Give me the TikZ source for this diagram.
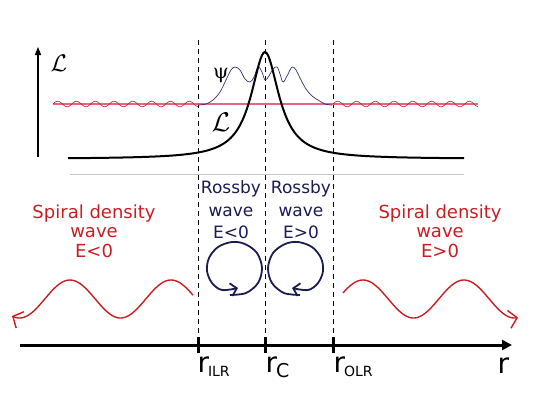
\documentclass[tikz,border=0pt]{standalone}
\usepackage{fontspec}
\setmainfont{DejaVu Sans}
\newfontfamily\psifont{DejaVu Serif}
\usetikzlibrary{arrows.meta}

\definecolor{wavered}{RGB}{200,30,35}
\definecolor{rossbyblue}{RGB}{28,28,80}
\definecolor{pinkline}{RGB}{232,100,130}
\definecolor{psiblue}{RGB}{50,50,120}

\tikzset{
  resline/.style={line width=0.9pt, dash pattern=on 5pt off 4pt},
  sdwlabel/.style={text=wavered, align=center, font=\fontsize{18}{19.5}\selectfont},
  rwlabel/.style={text=rossbyblue, align=center, font=\fontsize{17}{22.5}\selectfont},
  sdwarrow/.style={wavered, line width=1.4pt, -{Straight Barb[length=8pt,width=18pt]}},
  loopline/.style={rossbyblue, line width=1.8pt, -{Straight Barb[length=6pt,width=13pt]}},
  rlabel/.style={anchor=base west, font=\fontsize{28}{28}\selectfont},
  calL/.style={inner sep=0pt}
}

\begin{document}
\begin{tikzpicture}[x=1pt,y=-1pt]
    \useasboundingbox (0,0) rectangle (534,413);

    % resonance radii
    \foreach \name/\x in {ilr/198, cr/265, olr/333} {
        \coordinate (\name top) at (\x,40);
        \coordinate (\name bot) at (\x,338);
        \draw[resline] (\name top) -- (\name bot);
        \draw[line width=3pt] (\x,337) -- (\x,353);
    }

    % r axis
    \coordinate (axstart) at (20,345);
    \coordinate (axend) at (512,345);
    \draw[line width=3pt, -{Triangle[length=10pt,width=10pt]}] (axstart) -- (axend);
    \node[rlabel] (rilr) at (194,372) {r\kern-1pt\raisebox{-4pt}{\fontsize{14}{14}\selectfont ILR}};
    \node[rlabel] (rc) at (262,372) {r\kern-1pt\raisebox{-5pt}{\fontsize{19}{19}\selectfont C}};
    \node[rlabel] (rolr) at (330,372) {r\kern-1pt\raisebox{-4pt}{\fontsize{14}{14}\selectfont OLR}};
    \node[rlabel] (rend) at (494,373) {r};

    % upper panel
    \coordinate (lbot) at (38,157);
    \coordinate (ltop) at (38,47);
    \draw[line width=1.2pt, -{Triangle[length=8pt,width=6pt]}] (lbot) -- (ltop);
    \node[calL] (laxis) at (59,63) {\scalebox{2.4}{$\mathcal{L}$}};
    \draw[gray!45, line width=0.8pt] (70,174) -- (464,174);

    \draw[pinkline, line width=1.5pt] (53,104) -- (478,104);
    \draw[wavered, line width=0.6pt] plot[domain=53:198, samples=120, smooth] ({\x},{104-2.8*sin(19.15*(\x-53))});
    \draw[wavered, line width=0.6pt] plot[domain=333:478, samples=120, smooth] ({\x},{104-2.8*sin(19.15*(\x-333))});

    \draw[psiblue, line width=0.7pt] plot[smooth, tension=0.6] coordinates {
        (198,105) (206,104) (213,100) (220,92) (226,80) (231,70) (235,67) (240,70)
        (245,79) (250,82) (254,77) (258,67) (262,72) (265,80) (269,76) (273,69)
        (277,67) (280,74) (283,82) (287,76) (292,67) (296,70) (300,78) (306,89)
        (312,96) (318,100) (325,104) (332,105)};
    \node[font=\psifont\fontsize{20}{20}\selectfont, inner sep=0pt] (psi) at (221,75) {ψ};

    \draw[line width=2pt] plot[domain=68:464, samples=240] ({\x},{159-107/(1+((\x-265)/17)*((\x-265)/17))});
    \node[calL] (lcurve) at (221,122) {\scalebox{2.7}{$\mathcal{L}$}};

    % wave regions
    \node[sdwlabel] (sdwin) at (94,231) {Spiral density\\wave\\E<0};
    \node[sdwlabel] (sdwout) at (440,231) {Spiral density\\wave\\E>0};
    \node[rwlabel] (rwin) at (231,210) {Rossby\\wave\\E<0};
    \node[rwlabel] (rwout) at (301,210) {Rossby\\wave\\E>0};

    \draw[sdwarrow] plot[domain=193:12, samples=120] ({\x},{299-19*cos(3.564*(\x-70))});
    \draw[sdwarrow] plot[domain=343:518, samples=120] ({\x},{299-19*cos(3.564*(\x-464))});

    \draw[loopline] plot[smooth, tension=0.55] coordinates {
        (230,295) (246,293) (258,283) (262,268) (257,253) (245,244) (232,242)
        (218,247) (209,258) (207,271) (212,283) (222,290) (238,288)};
    \draw[loopline] plot[smooth, tension=0.55] coordinates {
        (300,295) (284,293) (272,283) (268,268) (273,253) (285,244) (298,242)
        (312,247) (321,258) (323,271) (318,283) (308,290) (292,288)};
\end{tikzpicture}
\end{document}
